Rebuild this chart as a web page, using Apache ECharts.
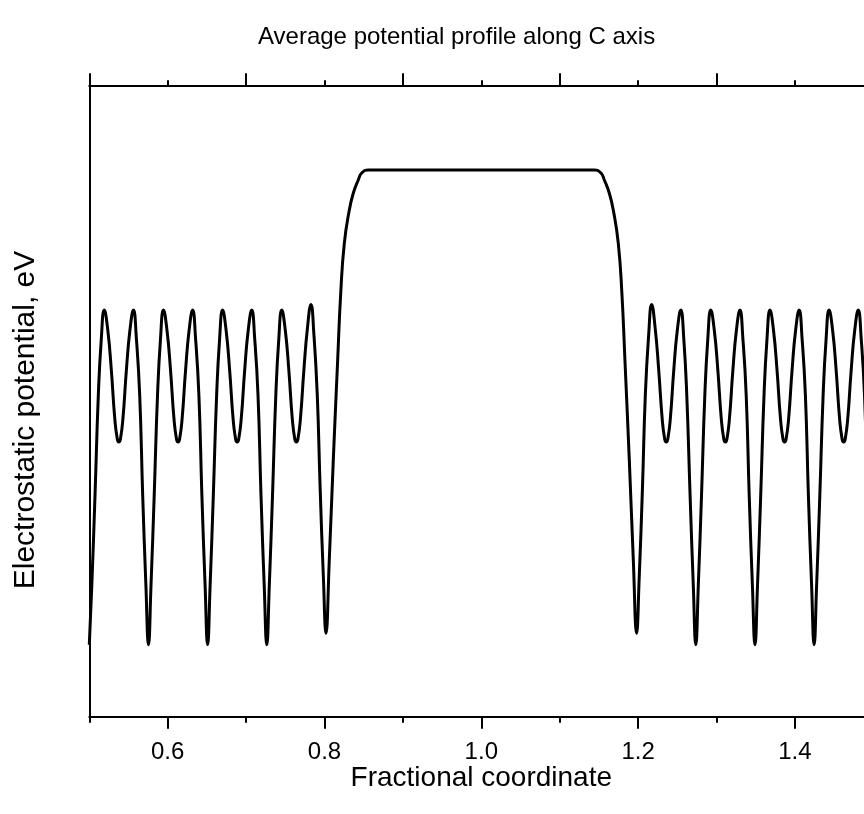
<!DOCTYPE html>
<html><head><meta charset="utf-8">
<script src="https://cdn.jsdelivr.net/npm/echarts@6/dist/echarts.min.js"></script>
<style>html,body{margin:0;padding:0;background:#fff;overflow:hidden;width:864px;height:814px}#c{width:880px;height:814px}</style>
</head><body><div id="c"></div>
<script>
// Fractional coordinate along C and average electrostatic potential (arbitrary eV offset)
const leftWellsX = [
  0.5000,0.5032,0.5073,0.5115,0.5153,0.5191,0.5236,0.5281,0.5325,0.5357,0.5377,0.5397,0.5429,0.5473,0.5518,0.5563,0.5601,0.5643,0.5681,0.5722,
  0.5755,0.5787,0.5828,0.5870,0.5908,0.5946,0.5991,0.6036,0.6080,0.6112,0.6132,0.6152,0.6184,0.6228,0.6273,0.6318,0.6356,0.6398,0.6436,0.6477,
  0.6509,0.6541,0.6582,0.6624,0.6662,0.6700,0.6745,0.6790,0.6834,0.6866,0.6886,0.6906,0.6938,0.6982,0.7027,0.7072,0.7110,0.7152,0.7190,0.7231,
  0.7264,0.7296,0.7337,0.7379,0.7417,0.7455,0.7500,0.7545,0.7589,0.7621,0.7641,0.7661,0.7693,0.7737,0.7782,0.7827,0.7865,0.7907,0.7945,0.7986
];
const leftWellsY = [
  1.14,2.08,3.51,5.09,5.98,6.44,6.12,5.49,4.72,4.40,4.35,4.40,4.72,5.49,6.12,6.44,5.98,5.09,3.51,2.08,
  1.14,2.08,3.51,5.09,5.98,6.44,6.12,5.49,4.72,4.40,4.35,4.40,4.72,5.49,6.12,6.44,5.98,5.09,3.51,2.08,
  1.14,2.08,3.51,5.09,5.98,6.44,6.12,5.49,4.72,4.40,4.35,4.40,4.72,5.49,6.12,6.44,5.98,5.09,3.51,2.08,
  1.14,2.08,3.51,5.09,5.98,6.44,6.12,5.49,4.72,4.40,4.35,4.40,4.72,5.49,6.15,6.53,6.05,5.12,3.60,2.20
];
const barrierX = [
  0.8019,0.8061,0.8112,0.8168,0.8207,0.8253,0.8316,0.8367,0.8431,0.8474,0.8559,
  1.1441,1.1526,1.1569,1.1633,1.1684,1.1747,1.1793,1.1832,1.1888,1.1939,1.1981
];
const barrierY = [
  1.32,2.48,4.06,5.65,6.71,7.50,8.02,8.29,8.50,8.61,8.66,
  8.66,8.61,8.50,8.29,8.02,7.50,6.71,5.65,4.06,2.48,1.32
];
const rightWellsX = [
  1.2014,1.2055,1.2093,1.2135,1.2173,1.2218,1.2263,1.2307,1.2339,1.2359,1.2379,1.2411,1.2455,1.2500,1.2545,1.2583,1.2621,1.2663,1.2704,
  1.2736,1.2768,1.2809,1.2851,1.2889,1.2927,1.2972,1.3017,1.3061,1.3093,1.3113,1.3133,1.3165,1.3209,1.3254,1.3299,1.3337,1.3379,1.3417,1.3458,
  1.3491,1.3523,1.3564,1.3606,1.3644,1.3682,1.3727,1.3772,1.3816,1.3848,1.3868,1.3888,1.3920,1.3964,1.4009,1.4054,1.4092,1.4134,1.4172,1.4213,
  1.4245,1.4277,1.4318,1.4360,1.4398,1.4436,1.4481,1.4526,1.4570,1.4602,1.4622,1.4642,1.4674,1.4718,1.4763,1.4808,1.4846,1.4888,1.4926,1.4967,1.5000
];
const rightWellsY = [
  2.20,3.60,5.12,6.05,6.53,6.15,5.49,4.72,4.40,4.35,4.40,4.72,5.49,6.12,6.44,5.98,5.09,3.51,2.08,
  1.14,2.08,3.51,5.09,5.98,6.44,6.12,5.49,4.72,4.40,4.35,4.40,4.72,5.49,6.12,6.44,5.98,5.09,3.51,2.08,
  1.14,2.08,3.51,5.09,5.98,6.44,6.12,5.49,4.72,4.40,4.35,4.40,4.72,5.49,6.12,6.44,5.98,5.09,3.51,2.08,
  1.14,2.08,3.51,5.09,5.98,6.44,6.12,5.49,4.72,4.40,4.35,4.40,4.72,5.49,6.12,6.44,5.98,5.09,3.51,2.08,1.14
];
const bottomMajorTicks = [0.6, 0.8, 1.0, 1.2, 1.4];
const bottomMinorTicks = [0.5, 0.7, 0.9, 1.1, 1.3, 1.5];
const topMajorTicks = [0.5, 0.7, 0.9, 1.1, 1.3, 1.5];
const topMinorTicks = [0.6, 0.8, 1.0, 1.2, 1.4];

const xs = leftWellsX.concat(barrierX, rightWellsX);
const ys = leftWellsY.concat(barrierY, rightWellsY);
const data = xs.map((x, i) => [x, ys[i]]);

const FONT = "'Liberation Sans', Arial, sans-serif";
const chart = echarts.init(document.getElementById('c'), null, {renderer: 'canvas', width: 880, height: 814});
const baseX = {
  type: 'value', min: 0.5, max: 1.5, gridIndex: 0,
  splitLine: {show: false}
};
chart.setOption({
  animation: false,
  backgroundColor: '#ffffff',
  title: {
    text: 'Average potential profile along C axis',
    left: 253, top: 20,
    textStyle: {fontFamily: FONT, fontSize: 24, fontWeight: 'normal', color: '#000'}
  },
  grid: {left: 89.3, top: 85.3, width: 784, height: 631.4, containLabel: false},
  xAxis: [
    Object.assign({}, baseX, {
      position: 'bottom',
      name: 'Fractional coordinate', nameLocation: 'middle', nameGap: 48, nameMoveOverlap: false,
      nameTextStyle: {fontFamily: FONT, fontSize: 28, color: '#000'},
      axisLine: {show: true, lineStyle: {color: '#000', width: 2}},
      axisTick: {show: true, length: 12, lineStyle: {color: '#000', width: 2}, customValues: bottomMajorTicks},
      axisLabel: {show: true, customValues: bottomMajorTicks, margin: 24, fontFamily: FONT, fontSize: 24, color: '#000',
        formatter: v => Number(v).toFixed(1)}
    }),
    Object.assign({}, baseX, {
      position: 'bottom',
      axisLine: {show: false},
      axisTick: {show: true, length: 6, lineStyle: {color: '#000', width: 2}, customValues: bottomMinorTicks},
      axisLabel: {show: false}
    }),
    Object.assign({}, baseX, {
      position: 'top',
      axisLine: {show: true, lineStyle: {color: '#000', width: 2}},
      axisTick: {show: true, length: 12, lineStyle: {color: '#000', width: 2}, customValues: topMajorTicks},
      axisLabel: {show: false}
    }),
    Object.assign({}, baseX, {
      position: 'top',
      axisLine: {show: false},
      axisTick: {show: true, length: 5, lineStyle: {color: '#000', width: 2}, customValues: topMinorTicks},
      axisLabel: {show: false}
    })
  ],
  yAxis: {
    type: 'value', min: 0, max: 10,
    axisLine: {show: true, lineStyle: {color: '#000', width: 2}},
    axisTick: {show: false}, axisLabel: {show: false}, splitLine: {show: false}
  },
  graphic: [{
    type: 'text', x: 26, y: 420, rotation: Math.PI / 2,
    style: {text: 'Electrostatic potential, eV', fontFamily: FONT, fontSize: 30, fill: '#000', align: 'center', verticalAlign: 'middle'}
  }],
  series: [{
    type: 'line', xAxisIndex: 0, yAxisIndex: 0,
    data: data, showSymbol: false, smooth: 0.5,
    lineStyle: {color: '#000', width: 3}
  }]
});
</script>
</body></html>
